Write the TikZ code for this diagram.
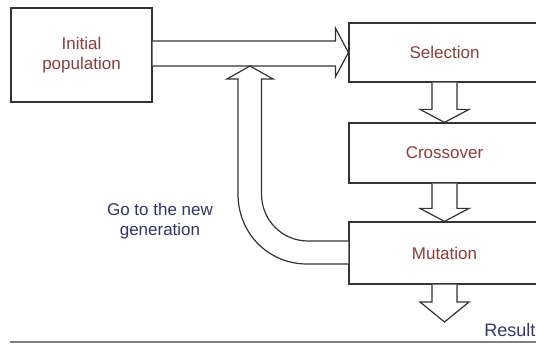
\documentclass[tikz,border=0pt]{standalone}
\usepackage{fontspec}
\setmainfont{Liberation Sans}
\usetikzlibrary{calc}
\definecolor{boxtext}{HTML}{8A3D3D}
\definecolor{navytext}{HTML}{33336E}
\definecolor{linegray}{HTML}{333333}
\definecolor{rulegray}{HTML}{808080}
\tikzset{
  procbox/.style={draw=linegray, line width=1.2pt, fill=white, rectangle, inner sep=0pt,
    text=boxtext, font=\fontsize{17}{20}\selectfont, align=center},
  blk/.style={draw=linegray, line width=1.2pt, fill=white, line join=miter},
  note/.style={text=navytext, font=\fontsize{17}{20.5}\selectfont, align=center, inner sep=0pt}
}
\newcommand\blockdown[3]{%
  \draw[blk] ($(#1.south)+(-12.5,0)$) -- ($(#2)+(-12.5,-#3)$) -- ($(#2)+(-24.5,-#3)$) -- (#2)
    -- ($(#2)+(24.5,-#3)$) -- ($(#2)+(12.5,-#3)$) -- ($(#1.south)+(12.5,0)$);}
\begin{document}
\begin{tikzpicture}[x=1pt,y=-1pt]
\useasboundingbox (0,0) rectangle (536,344);
\clip (0,0) rectangle (536,344);
% boxes
\node[procbox, minimum width=141pt, minimum height=94pt] (init) at (81.5,55) {Initial\\population};
\node[procbox, minimum width=191pt, minimum height=59pt] (sel) at (444.5,52.5) {Selection};
\node[procbox, minimum width=191pt, minimum height=60pt] (cross) at (444.5,153) {Crossover};
\node[procbox, minimum width=191pt, minimum height=62pt] (mut) at (444.5,253) {Mutation};
% labels
\node[note] (gen) at (160,221) {Go to the new\\generation};
\node[note, anchor=east, font=\fontsize{18}{21}\selectfont] (res) at (535.5,330) {Result};
\coordinate (restip) at (444.5,322);
\coordinate (looptip) at (250,66);
% horizontal block arrow
\draw[blk] ($(init.east|-sel.west)+(0,-11.5)$) -- ($(sel.west)+(-13,-11.5)$) -- ($(sel.west)+(-13,-24.5)$)
  -- (sel.west) -- ($(sel.west)+(-13,24.5)$) -- ($(sel.west)+(-13,13.5)$) -- ($(init.east|-sel.west)+(0,13.5)$);
% down block arrows
\blockdown{sel}{cross.north}{13}
\blockdown{cross}{mut.north}{13}
\blockdown{mut}{restip}{20}
% loop arrow
\draw[blk] ($(mut.west)+(0,-12)$) -- ($(looptip)+(58,175)$)
  .. controls ($(looptip)+(32,175)$) and ($(looptip)+(11.5,154)$) .. ($(looptip)+(11.5,128)$)
  -- ($(looptip)+(11.5,13)$) -- ($(looptip)+(23,13)$) -- (looptip) -- ($(looptip)+(-23,13)$)
  -- ($(looptip)+(-12,13)$) -- ($(looptip)+(-12,128)$)
  .. controls ($(looptip)+(-12,167)$) and ($(looptip)+(18,198)$) .. ($(looptip)+(57,198)$)
  -- ($(mut.west)+(0,11)$);
% bottom rule
\draw[rulegray, line width=2pt] (10,342.5) -- (536,342.5);
\end{tikzpicture}
\end{document}
